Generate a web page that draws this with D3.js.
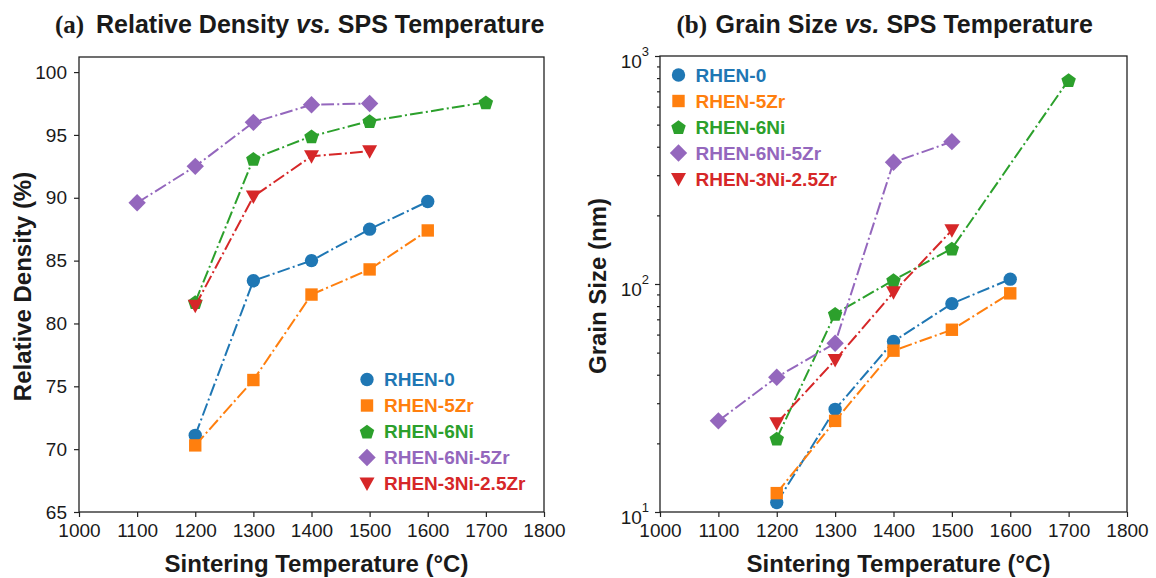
<!DOCTYPE html>
<html>
<head>
<meta charset="utf-8">
<script src="https://cdn.jsdelivr.net/npm/d3@7"></script>
<style>
body { margin: 0; background: #fff; }
svg text { font-family: "Liberation Sans", Arial, sans-serif; fill: #1a1a1a; }
.tick text { font-size: 19px; }
.tick line { stroke: #222; stroke-width: 1.2; }
</style>
</head>
<body>
<div id="visualisation"></div>
<script>
// series, in the order they are drawn
var seriesNames = ["RHEN-0", "RHEN-5Zr", "RHEN-6Ni", "RHEN-6Ni-5Zr", "RHEN-3Ni-2.5Zr"];
var seriesColors = ["#1f77b4", "#ff7f0e", "#2ca02c", "#9467bd", "#d62728"];
var seriesShapes = ["circle", "square", "pentagon", "diamond", "triangleDown"];

// sintering temperatures (°C) per series
var seriesTemps = [
    [1200, 1300, 1400, 1500, 1600],
    [1200, 1300, 1400, 1500, 1600],
    [1200, 1300, 1400, 1500, 1700],
    [1100, 1200, 1300, 1400, 1500],
    [1200, 1300, 1400, 1500]
];

// (a) relative density (%)
var densityValues = [
    [71.1, 83.4, 85.0, 87.5, 89.7],
    [70.3, 75.5, 82.3, 84.3, 87.4],
    [81.7, 93.1, 94.9, 96.1, 97.6],
    [89.6, 92.5, 96.0, 97.4, 97.5],
    [81.4, 90.1, 93.3, 93.7]
];

// (b) grain size (nm)
var grainValues = [
    [11.0, 28.2, 56, 82, 105],
    [12.1, 25.1, 51, 63, 91],
    [21, 74, 104, 143, 785],
    [25.1, 39, 55, 342, 421],
    [24.5, 46.4, 92, 172]
];

var tempTicks = [1000, 1100, 1200, 1300, 1400, 1500, 1600, 1700, 1800];
var densityTicks = [65, 70, 75, 80, 85, 90, 95, 100];
var grainTicks = [10, 100, 1000];
var grainTickExp = ["1", "2", "3"];
var grainMinorTicks = [20, 30, 40, 50, 60, 70, 80, 90, 200, 300, 400, 500, 600, 700, 800, 900];

var width = 1156;
var height = 578;

var svg = d3.select("#visualisation")
    .append("svg")
        .attr("width", width)
        .attr("height", height);

function markerPath(shape) {
    if (shape === "circle") {
        return d3.symbol(d3.symbolCircle, 140)();
    }
    if (shape === "square") {
        return "M-6.2,-6.2L6.2,-6.2L6.2,6.2L-6.2,6.2Z";
    }
    if (shape === "diamond") {
        return "M0,-8.7L8.7,0L0,8.7L-8.7,0Z";
    }
    if (shape === "triangleDown") {
        return "M-7.5,-6L7.5,-6L0,7.5Z";
    }
    // pentagon
    var pts = [];
    for (var k = 0; k < 5; k++) {
        var ang = -Math.PI / 2 + k * 2 * Math.PI / 5;
        pts.push([7.6 * Math.cos(ang), 7.6 * Math.sin(ang) + 0.8]);
    }
    return "M" + pts.join("L") + "Z";
}

function drawPanel(p) {
    var g = svg.append("g");

    var xScale = d3.scaleLinear()
        .domain([1000, 1800])
        .range([p.left, p.right]);

    var yScale = p.yScale.range([p.bottom, p.top]);

    // axes (ticks only, frame drawn as rect)
    var xAxis = g.append("g")
        .attr("transform", "translate(0," + p.bottom + ")")
        .call(d3.axisBottom(xScale)
            .tickValues(tempTicks)
            .tickFormat(d3.format("d"))
            .tickSize(5)
            .tickPadding(6.5));
    xAxis.select(".domain").remove();

    if (p.log) {
        var yMinor = g.append("g")
            .attr("transform", "translate(" + p.left + ",0)")
            .call(d3.axisLeft(yScale)
                .tickValues(grainMinorTicks)
                .tickFormat("")
                .tickSize(3));
        yMinor.select(".domain").remove();

        var yAxis = g.append("g")
            .attr("transform", "translate(" + p.left + ",0)")
            .call(d3.axisLeft(yScale)
                .tickValues(grainTicks)
                .tickFormat("")
                .tickSize(5));
        yAxis.select(".domain").remove();

        grainTicks.forEach(function (v, i) {
            var t = g.append("text")
                .attr("x", p.left - 11)
                .attr("y", yScale(v) + 12)
                .attr("text-anchor", "end")
                .style("font-size", "19px");
            t.append("tspan").text("10");
            t.append("tspan")
                .attr("dy", -12.5)
                .style("font-size", "13px")
                .text(grainTickExp[i]);
        });
    } else {
        var yAxisL = g.append("g")
            .attr("transform", "translate(" + p.left + ",0)")
            .call(d3.axisLeft(yScale)
                .tickValues(densityTicks)
                .tickSize(5)
                .tickPadding(7));
        yAxisL.select(".domain").remove();
    }

    g.append("rect")
        .attr("x", p.left)
        .attr("y", p.top)
        .attr("width", p.right - p.left)
        .attr("height", p.bottom - p.top)
        .attr("fill", "none")
        .attr("stroke", "#222")
        .attr("stroke-width", 1.3);

    // series
    seriesNames.forEach(function (name, i) {
        var pts = seriesTemps[i].map(function (t, j) {
            return { temp: t, val: p.values[i][j] };
        });

        var line = d3.line()
            .x(function (d) { return xScale(d.temp); })
            .y(function (d) { return yScale(d.val); });

        g.append("path")
            .datum(pts)
            .attr("d", line)
            .attr("fill", "none")
            .attr("stroke", seriesColors[i])
            .attr("stroke-width", 2)
            .attr("stroke-dasharray", "12.8,3.2,2,3.2");

        g.selectAll(".m" + i)
            .data(pts)
            .enter()
            .append("path")
                .attr("class", "m" + i)
                .attr("d", markerPath(seriesShapes[i]))
                .attr("transform", function (d) {
                    return "translate(" + xScale(d.temp) + "," + yScale(d.val) + ")";
                })
                .attr("fill", seriesColors[i]);
    });

    // legend
    seriesNames.forEach(function (name, i) {
        var ly = p.legendY + i * 26;
        g.append("path")
            .attr("d", markerPath(seriesShapes[i]))
            .attr("transform", "translate(" + p.legendX + "," + ly + ")")
            .attr("fill", seriesColors[i]);
        g.append("text")
            .attr("x", p.legendX + 17)
            .attr("y", ly)
            .attr("dy", "0.36em")
            .style("font-size", "19px")
            .style("font-weight", "bold")
            .style("fill", seriesColors[i])
            .text(name);
    });

    // titles
    var title = g.append("text")
        .attr("x", p.titleX)
        .attr("y", 33)
        .style("font-size", "25px")
        .style("font-weight", "bold");
    title.append("tspan")
        .style("font-family", "'Liberation Serif', 'Times New Roman', serif")
        .text(p.tag);
    title.append("tspan")
        .attr("x", p.titleX2)
        .text(p.title1);
    title.append("tspan")
        .style("font-style", "italic")
        .text("vs.");
    title.append("tspan")
        .text(" SPS Temperature");

    g.append("text")
        .attr("x", (p.left + p.right) / 2 + 5)
        .attr("y", 572)
        .attr("text-anchor", "middle")
        .style("font-size", "24px")
        .style("font-weight", "bold")
        .text("Sintering Temperature (°C)");

    g.append("text")
        .attr("transform", "translate(" + p.yLabelX + "," + ((p.top + p.bottom) / 2 + 2) + ")rotate(-90)")
        .attr("text-anchor", "middle")
        .attr("dy", "0.35em")
        .style("font-size", "24px")
        .style("font-weight", "bold")
        .text(p.yLabel);
}

drawPanel({
    left: 79, right: 544, top: 57, bottom: 512,
    yScale: d3.scaleLinear().domain([65, 101.2]),
    log: false,
    values: densityValues,
    legendX: 367, legendY: 379.5,
    tag: "(a)", titleX: 55, titleX2: 96, title1: "Relative Density ",
    yLabel: "Relative Density (%)", yLabelX: 23
});

drawPanel({
    left: 660, right: 1127, top: 56, bottom: 512,
    yScale: d3.scaleLog().domain([10, 1000]),
    log: true,
    values: grainValues,
    legendX: 678.5, legendY: 75,
    tag: "(b)", titleX: 676.5, titleX2: 715.5, title1: "Grain Size ",
    yLabel: "Grain Size (nm)", yLabelX: 598
});
</script>
</body>
</html>
